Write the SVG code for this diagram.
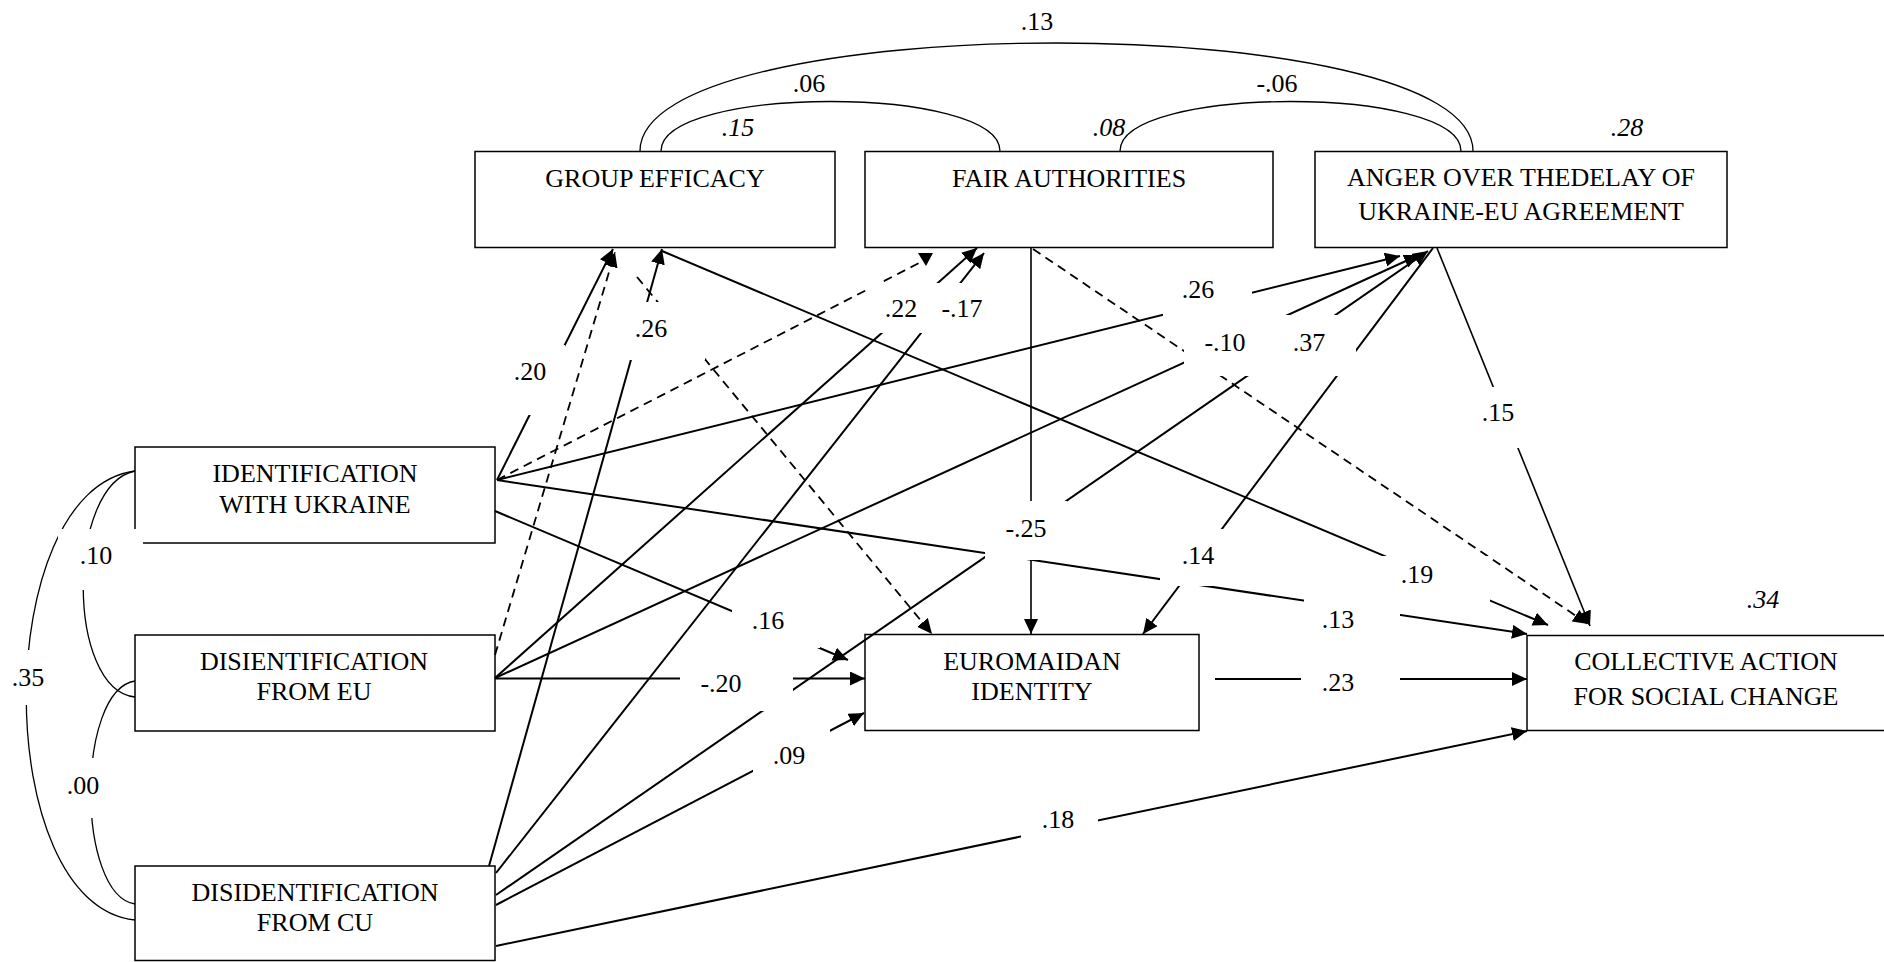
<svg xmlns="http://www.w3.org/2000/svg" width="1884" height="962" viewBox="0 0 1884 962" font-family="'Liberation Serif', 'Times New Roman', 'DejaVu Serif', serif" font-size="26">
<style>
  .node rect { fill: #fff; stroke: #000; stroke-width: 1.5; }
  .node text { text-anchor: middle; fill: #000; }
  .c { fill: none; stroke: #000; stroke-width: 2; }
  .a { marker-end: url(#ah); }
  .d { stroke-dasharray: 9 6; stroke-width: 1.8; }
  .thin { stroke-width: 1.6; }
  .cov { fill: none; stroke: #000; stroke-width: 1.3; }
  .lb { fill: #fff; }
  .lab { text-anchor: middle; fill: #000; }
  .r2 { font-style: italic; }
</style>
<defs>
  <marker id="ah" markerUnits="userSpaceOnUse" markerWidth="16" markerHeight="14" refX="15" refY="7" orient="auto">
    <path d="M0,0 L15,7 L0,14 z" fill="#000"/>
  </marker>
</defs>
<rect x="0" y="0" width="1884" height="962" fill="#fff"/>

<!-- nodes -->
<g id="group-efficacy" class="node">
  <rect x="475" y="151.5" width="360" height="96"/>
  <text x="655" y="187" font-family="'Liberation Serif', serif">GROUP EFFICACY</text>
</g>
<g id="fair-authorities" class="node">
  <rect x="865" y="151.5" width="408" height="96"/>
  <text x="1069" y="187" font-family="'Liberation Serif', serif">FAIR AUTHORITIES</text>
</g>
<g id="anger" class="node">
  <rect x="1315" y="151.5" width="412" height="96"/>
  <text x="1521" y="186" font-family="'Liberation Serif', serif">ANGER OVER THEDELAY OF</text>
  <text x="1521" y="220" font-family="'Liberation Serif', serif">UKRAINE-EU AGREEMENT</text>
</g>
<g id="identification-ukraine" class="node">
  <rect x="135" y="447" width="360" height="96"/>
  <text x="315" y="481.5" font-family="'Liberation Serif', serif">IDENTIFICATION</text>
  <text x="315" y="512.5" font-family="'Liberation Serif', serif">WITH UKRAINE</text>
</g>
<g id="disidentification-eu" class="node">
  <rect x="135" y="635" width="360" height="96"/>
  <text x="314" y="670" font-family="'Liberation Serif', serif">DISIENTIFICATION</text>
  <text x="314" y="700" font-family="'Liberation Serif', serif">FROM EU</text>
</g>
<g id="disidentification-cu" class="node">
  <rect x="135" y="866" width="360" height="94.5"/>
  <text x="315" y="901" font-family="'Liberation Serif', serif">DISIDENTIFICATION</text>
  <text x="315" y="931" font-family="'Liberation Serif', serif">FROM CU</text>
</g>
<g id="euromaidan-identity" class="node">
  <rect x="865" y="634.5" width="334" height="96"/>
  <text x="1032" y="670" font-family="'Liberation Serif', serif">EUROMAIDAN</text>
  <text x="1032" y="699.5" font-family="'Liberation Serif', serif">IDENTITY</text>
</g>
<g id="collective-action" class="node">
  <rect x="1527" y="635.5" width="370" height="95"/>
  <text x="1706" y="670" font-family="'Liberation Serif', serif">COLLECTIVE ACTION</text>
  <text x="1706" y="705" font-family="'Liberation Serif', serif">FOR SOCIAL CHANGE</text>
</g>

<!-- connectors -->
<g id="connectors">
  <!-- covariances -->
  <path class="cov" d="M640,151 C640,7 1473,7 1473,151"/>
  <path class="cov" d="M661,151 C661,85 1000,85 1000,151"/>
  <path class="cov" d="M1120,151 C1120,85 1461,85 1461,151"/>
  <path class="cov" d="M135,471 C66,485 66,690 135,697"/>
  <path class="cov" d="M135,471 C-10,490 -10,905 135,920"/>
  <path class="cov" d="M135,681 C76,690 76,895 135,904"/>

  <!-- solid paths -->
  <path class="c a" d="M497,480 L613,249"/>
  <path class="c a" d="M497,480 L1400,256"/>
  <path class="c a" d="M495,511 L848,660"/>
  <path class="c a" d="M497,480 L1527,634"/>
  <path class="c a" d="M495,678 L977,248"/>
  <path class="c a" d="M495,678 L1419,255"/>
  <path class="c a" d="M495,678.5 L865,678.5"/>
  <path class="c a" d="M489,866 L662,249"/>
  <path class="c a" d="M496,873 L984,253"/>
  <path class="c a" d="M496,895 L1428,251"/>
  <path class="c a" d="M496,905 L864,713"/>
  <path class="c a" d="M496,946 L1527,731"/>
  <path class="c a" d="M662,251 L1548,625"/>
  <path class="c a thin" d="M1031,247 L1031,634"/>
  <path class="c a" d="M1433,248 L1143,634"/>
  <path class="c a thin" d="M1437,248 L1590,626"/>
  <path class="c a" d="M1215,679 L1527,679"/>

  <!-- non-significant paths -->
  <path class="c d" d="M497,480 L921,262"/>
  <polygon points="918,253 933,253 926,266" fill="#000"/>
  <path class="c d a" d="M495,655 L615,252"/>
  <path class="c d a" d="M637,277 L932,634"/>
  <path class="c d a" d="M1033,249 L1588,624"/>
</g>

<!-- coefficients -->
<g id="labels" font-family="'Liberation Serif', serif">
  <rect class="lb" x="498" y="345" width="67" height="70"/>
  <rect class="lb" x="620" y="302" width="85" height="58"/>
  <rect class="lb" x="868" y="283" width="70" height="50"/>
  <rect class="lb" x="918" y="283" width="82" height="50"/>
  <rect class="lb" x="1163" y="262" width="89" height="54"/>
  <rect class="lb" x="1184" y="317" width="86" height="59"/>
  <rect class="lb" x="1262" y="315" width="94" height="61"/>
  <rect class="lb" x="1470" y="387" width="60" height="61"/>
  <rect class="lb" x="732" y="595" width="88" height="53"/>
  <rect class="lb" x="680" y="652" width="113" height="59"/>
  <rect class="lb" x="753" y="727" width="77" height="58"/>
  <rect class="lb" x="985" y="501" width="82" height="59"/>
  <rect class="lb" x="1160" y="529" width="65" height="57"/>
  <rect class="lb" x="1381" y="556" width="109" height="47"/>
  <rect class="lb" x="1304" y="598" width="96" height="42"/>
  <rect class="lb" x="1301" y="655" width="99" height="50"/>
  <rect class="lb" x="1021" y="795" width="77" height="50"/>
  <rect class="lb" x="58" y="529" width="85" height="61"/>
  <rect class="lb" x="0" y="650" width="58" height="55"/>
  <rect class="lb" x="58" y="758" width="54" height="60"/>

  <text class="lab" x="1037" y="30">.13</text>
  <text class="lab" x="809" y="92">.06</text>
  <text class="lab r2" x="738" y="136">.15</text>
  <text class="lab" x="1277" y="92">-.06</text>
  <text class="lab r2" x="1109" y="136">.08</text>
  <text class="lab r2" x="1627" y="136">.28</text>
  <text class="lab" x="530" y="380">.20</text>
  <text class="lab" x="651" y="337">.26</text>
  <text class="lab" x="901" y="317">.22</text>
  <text class="lab" x="962" y="317">-.17</text>
  <text class="lab" x="1198" y="298">.26</text>
  <text class="lab" x="1225" y="351">-.10</text>
  <text class="lab" x="1309" y="351">.37</text>
  <text class="lab" x="1498" y="421">.15</text>
  <text class="lab" x="96" y="564">.10</text>
  <text class="lab" x="28" y="686">.35</text>
  <text class="lab" x="83" y="794">.00</text>
  <text class="lab" x="768" y="629">.16</text>
  <text class="lab" x="721" y="692">-.20</text>
  <text class="lab" x="789" y="764">.09</text>
  <text class="lab" x="1026" y="537">-.25</text>
  <text class="lab" x="1198" y="564">.14</text>
  <text class="lab" x="1417" y="583">.19</text>
  <text class="lab" x="1338" y="628">.13</text>
  <text class="lab" x="1338" y="691">.23</text>
  <text class="lab r2" x="1763" y="608">.34</text>
  <text class="lab" x="1058" y="828">.18</text>
</g>
</svg>
